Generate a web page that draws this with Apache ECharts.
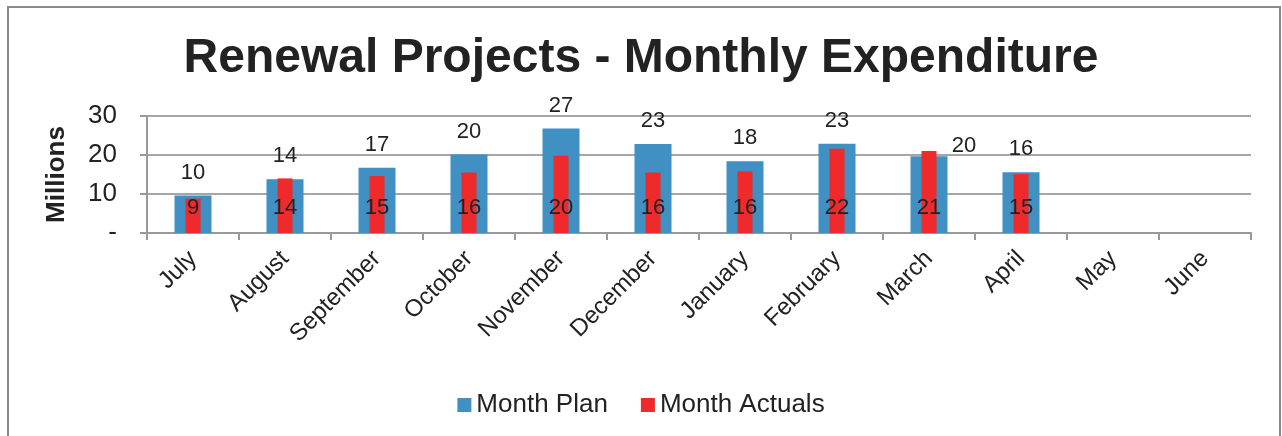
<!DOCTYPE html>
<html>
<head>
<meta charset="utf-8">
<script src="https://cdn.jsdelivr.net/npm/echarts@6/dist/echarts.min.js"></script>
<style>
  html, body { margin: 0; padding: 0; background: #fff; }
  #chart { width: 1282px; height: 436px; }
</style>
</head>
<body>
<div id="chart"></div>
<script>
// monthly expenditure, millions
var months = ['July','August','September','October','November','December','January','February','March','April','May','June'];
var monthPlan = [9.6, 13.8, 16.7, 20.1, 26.8, 22.8, 18.4, 22.9, 19.7, 15.6, null, null];
var monthActuals = [8.8, 14.0, 14.6, 15.5, 19.8, 15.5, 15.8, 21.6, 21.0, 15.1, null, null];
var yTicks = {0: '-', 10: '10', 20: '20', 30: '30'};

var font = 'Liberation Sans, Arial, sans-serif';
var round = function (p) { return Math.round(p.value); };

// March plan label sits off to the right in the original
var planData = monthPlan.map(function (v, i) {
    if (i === 8) return { value: v, label: { offset: [35, 13] } };
    return v;
});

var catAxis = {
    type: 'category',
    data: months,
    axisLine: { lineStyle: { color: '#999', width: 2 } },
    axisTick: { show: true, length: 7, lineStyle: { color: '#999', width: 2 } },
    axisLabel: { rotate: 45, fontSize: 24, color: '#222', margin: 22, interval: 0 }
};

var chart = echarts.init(document.getElementById('chart'));
var option = {
    animation: false,
    textStyle: { fontFamily: font },
    graphic: [{
        type: 'rect',
        shape: { x: 8, y: 7, width: 1272, height: 440 },
        style: { fill: 'none', stroke: '#8a8a8a', lineWidth: 2 }
    }],
    title: {
        text: 'Renewal Projects - Monthly Expenditure',
        left: 'center',
        top: 30,
        textStyle: { fontSize: 48, fontWeight: 'bold', color: '#222', fontFamily: font }
    },
    legend: {
        top: 387,
        left: 'center',
        itemWidth: 14,
        itemHeight: 14,
        itemGap: 33,
        icon: 'rect',
        textStyle: { fontSize: 26, color: '#222', fontFamily: font },
        data: ['Month Plan', 'Month Actuals']
    },
    grid: { left: 147, right: 31, top: 116, bottom: 203 },
    xAxis: [
        catAxis,
        { type: 'category', data: months, show: false }
    ],
    yAxis: {
        type: 'value',
        min: 0, max: 30, interval: 10,
        name: 'Millions',
        nameLocation: 'middle',
        nameGap: 77,
        nameTextStyle: { fontSize: 26, fontWeight: 'bold', color: '#222' },
        axisLine: { show: true, lineStyle: { color: '#999', width: 2 } },
        axisTick: { show: true, length: 7, lineStyle: { color: '#999', width: 2 } },
        splitLine: { lineStyle: { color: '#a6a6a6', width: 2 } },
        axisLabel: {
            fontSize: 26, color: '#222', margin: 30,
            formatter: function (v) { return yTicks[v]; }
        }
    },
    series: [
        {
            name: 'Month Plan',
            type: 'bar',
            xAxisIndex: 0,
            data: planData,
            barWidth: 37,
            itemStyle: { color: '#4190c3' },
            label: {
                show: true, position: 'top', distance: 12,
                fontSize: 22, color: '#222', formatter: round
            }
        },
        {
            name: 'Month Actuals',
            type: 'bar',
            xAxisIndex: 1,
            data: monthActuals,
            barWidth: 15,
            itemStyle: { color: '#ee2a2a' },
            label: {
                show: true, position: 'insideBottom', distance: 14,
                fontSize: 22, color: '#222', formatter: round
            }
        }
    ]
};
chart.setOption(option);
</script>
</body>
</html>
